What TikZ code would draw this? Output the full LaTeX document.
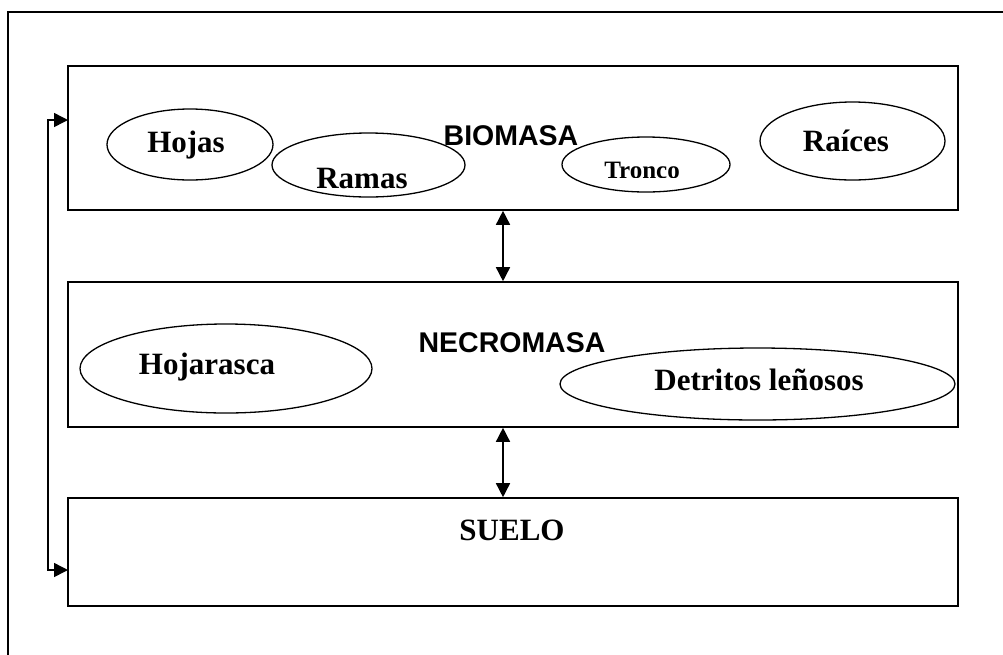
\documentclass[tikz,border=0pt]{standalone}
\usepackage{fontspec}
\setmainfont{Liberation Serif}
\newfontfamily\headfont{Liberation Sans}
\usetikzlibrary{arrows.meta,shapes.geometric}

\tikzset{
  layer/.style={draw, line width=1.6pt, rectangle, inner sep=0pt},
  oval/.style={draw, line width=1.3pt, ellipse, inner sep=0pt},
  part/.style={anchor=base, inner sep=0pt, font=\fontsize{31}{31}\selectfont\bfseries},
  small/.style={anchor=base, inner sep=0pt, font=\fontsize{25}{25}\selectfont\bfseries},
  head/.style={anchor=base, inner sep=0pt, font=\headfont\fontsize{28.5}{28.5}\selectfont\bfseries},
  flow/.style={line width=1.5pt, {Triangle[length=14pt,width=14pt]}-{Triangle[length=14pt,width=14pt]}}
}

\begin{document}
\begin{tikzpicture}[x=1pt,y=-1pt]
  \useasboundingbox (0,0) rectangle (1003,654);

  % page frame
  \draw[line width=1.6pt] (8,660) -- (8,12) -- (1010,12);

  % the three layers
  \node[layer, minimum width=890pt, minimum height=144pt] (bio) at (513,138) {};
  \node[layer, minimum width=890pt, minimum height=145pt] (necro) at (513,354.5) {};
  \node[layer, minimum width=890pt, minimum height=108pt] (suelo) at (513,552) {};

  % BIOMASA
  \node[head] (biot) at (511,145) {BIOMASA};
  \node[oval, minimum width=166pt, minimum height=71pt] (hojas) at (190,144.5) {};
  \node[part] (hojast) at (186,152) {Hojas};
  \node[oval, minimum width=193pt, minimum height=64pt] (ramas) at (368.5,165) {};
  \node[part] (ramast) at (362,188) {Ramas};
  \node[oval, minimum width=168pt, minimum height=55pt] (tronco) at (646,164.5) {};
  \begin{scope}
    \clip (560,130) rectangle (735,177.5);
    \node[small] (troncot) at (642,178) {Tronco};
  \end{scope}
  \node[oval, minimum width=185pt, minimum height=78pt] (raices) at (852.5,141) {};
  \node[part] (raicest) at (846,151) {Raíces};

  % NECROMASA
  \node[head] (necrot) at (512,352) {NECROMASA};
  \node[oval, minimum width=292pt, minimum height=89pt] (hojarasca) at (226,368.5) {};
  \node[part] (hojarascat) at (207,374) {Hojarasca};
  \node[oval, minimum width=395pt, minimum height=72pt] (detritos) at (757.5,384) {};
  \node[part] (detritost) at (759,390) {Detritos leñosos};

  % SUELO
  \node[part] (suelot) at (512,540) {SUELO};

  % exchanges between layers
  \coordinate (axis) at (503,0);
  \draw[flow] (bio.south -| axis) -- (necro.north -| axis);
  \draw[flow] (necro.south -| axis) -- (suelo.north -| axis);

  % return loop from soil to biomass
  \coordinate (bioin) at (68,120);
  \coordinate (sueloin) at (68,570);
  \draw[flow] (bioin) -- ++(-20,0) |- (sueloin);
\end{tikzpicture}
\end{document}
